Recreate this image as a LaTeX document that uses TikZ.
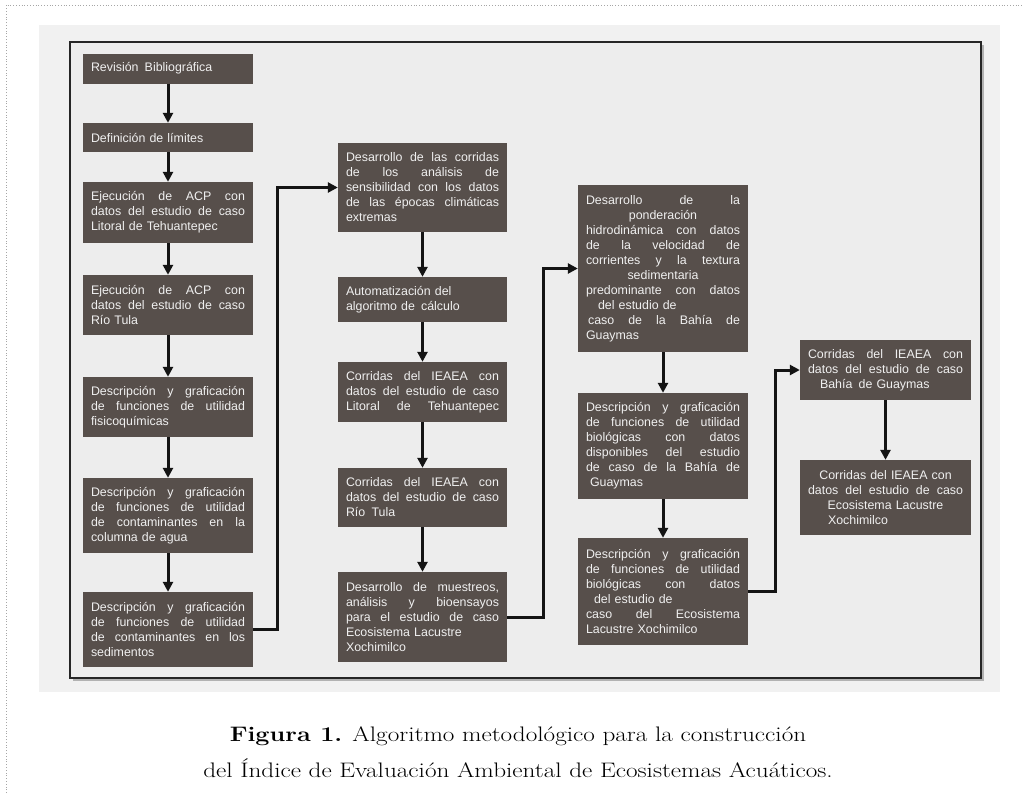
\documentclass[tikz,border=0pt]{standalone}
\usepackage{fontspec}
\usepackage{graphicx}
\usetikzlibrary{arrows.meta}
\newfontfamily\boxfont{Liberation Sans}
\definecolor{boxc}{HTML}{574F4B}
\definecolor{scanbg}{HTML}{F1F1F1}
\newcommand\J[1]{\leavevmode\hbox to \hsize{\spaceskip=0.28em plus 3em\relax #1}}
\newcommand\Cc[1]{\leavevmode\hbox to \hsize{\hss#1\hss}}
\tikzset{
  bx/.style={fill=boxc, text=white!94!black, inner sep=0pt, align=left,
    font=\boxfont\fontsize{12.4}{15}\selectfont},
  arr/.style={line width=3pt, draw=black!92, -{Triangle[length=10pt,width=10pt]}},
}
\begin{document}
\begin{tikzpicture}[x=1pt,y=-1pt]
\useasboundingbox (0,0) rectangle (1024,793);
\draw[gray!70, dotted, line width=0.8pt] (6,793) -- (6,5) -- (1024,5);
% scanned background and frame
\fill[scanbg] (39,25) rectangle (1000,692);
\fill[black!30] (73,45) rectangle (984,681);
\fill[black!7] (70,42) rectangle (981,678);
\draw[line width=2.8pt, black!85] (70,42) rectangle (981,678);

% column 1
\node[bx, text width=154pt, minimum width=170pt, minimum height=30pt] (A1) at (168,68.5)
  {Revisión\enspace Bibliográfica};
\node[bx, text width=154pt, minimum width=170pt, minimum height=29pt] (A2) at (168,137.5)
  {Definición de límites};
\node[bx, text width=154pt, minimum width=170pt, minimum height=61pt] (A3) at (168,212.5)
  {\J{Ejecución de ACP con}\\\J{datos del estudio de caso}\\Litoral de Tehuantepec};
\node[bx, text width=154pt, minimum width=170pt, minimum height=60pt] (A4) at (168,305)
  {\J{Ejecución de ACP con}\\\J{datos del estudio de caso}\\Río Tula};
\node[bx, text width=154pt, minimum width=170pt, minimum height=60pt] (A5) at (168,407)
  {\J{Descripción y graficación}\\\J{de funciones de utilidad}\\fisicoquímicas};
\node[bx, text width=154pt, minimum width=170pt, minimum height=75pt] (A6) at (168,515.5)
  {\J{Descripción y graficación}\\\J{de funciones de utilidad}\\\J{de contaminantes en la}\\columna de agua};
\node[bx, text width=154pt, minimum width=170pt, minimum height=75pt] (A7) at (168,629.5)
  {\J{Descripción y graficación}\\\J{de funciones de utilidad}\\\J{de contaminantes en los}\\sedimentos};

% column 2
\node[bx, text width=153pt, minimum width=169pt, minimum height=89pt] (B1) at (422.5,187.5)
  {\J{Desarrollo de las corridas}\\\J{de los análisis de}\\\J{sensibilidad con los datos}\\\J{de las épocas climáticas}\\extremas};
\node[bx, text width=153pt, minimum width=169pt, minimum height=45pt] (B2) at (422.5,299.5)
  {Automatización del\\algoritmo de\enspace cálculo};
\node[bx, text width=153pt, minimum width=169pt, minimum height=60pt] (B3) at (422.5,392)
  {\J{Corridas del IEAEA con}\\\J{datos del estudio de caso}\\\J{Litoral de Tehuantepec}};
\node[bx, text width=153pt, minimum width=169pt, minimum height=59pt] (B4) at (422.5,497.5)
  {\J{Corridas del IEAEA con}\\\J{datos del estudio de caso}\\Río\enspace Tula};
\node[bx, text width=153pt, minimum width=169pt, minimum height=90pt] (B5) at (422.5,617)
  {\J{Desarrollo de muestreos,}\\\J{análisis y bioensayos}\\\J{para el estudio de caso}\\Ecosistema Lacustre\\Xochimilco};

% column 3
\node[bx, text width=154pt, minimum width=170pt, minimum height=167pt] (C1) at (663,268.5)
  {\J{Desarrollo de la}\\\Cc{ponderación}\\\J{hidrodinámica con datos}\\\J{de la velocidad de}\\\J{corrientes y la textura}\\\Cc{sedimentaria}\\\J{predominante con datos}\\\hspace*{12pt}del estudio de\\\J{\,caso de la Bahía de}\\Guaymas};
\node[bx, text width=154pt, minimum width=170pt, minimum height=106pt] (C2) at (663,446)
  {\J{Descripción y graficación}\\\J{de funciones de utilidad}\\\J{biológicas con datos}\\\J{disponibles del estudio}\\\J{de caso de la Bahía de}\\\hspace*{4pt}Guaymas};
\node[bx, text width=154pt, minimum width=170pt, minimum height=107pt] (C3) at (663,591.5)
  {\J{Descripción y graficación}\\\J{de funciones de utilidad}\\\J{biológicas con datos}\\\hspace*{8pt}del estudio de\\\J{caso del Ecosistema}\\Lacustre Xochimilco};

% column 4
\node[bx, text width=155pt, minimum width=171pt, minimum height=60pt] (D1) at (885.5,370)
  {\J{Corridas del IEAEA con}\\\J{datos del estudio de caso}\\\hspace*{12pt}Bahía\enspace de Guaymas};
\node[bx, text width=155pt, minimum width=171pt, minimum height=75pt] (D2) at (885.5,497.5)
  {\Cc{Corridas del IEAEA con}\\\J{datos del estudio de caso}\\\Cc{Ecosistema Lacustre}\\\hspace*{20pt}Xochimilco};

% connectors
\draw[arr] (A1) -- (A2);
\draw[arr] (A2) -- (A3);
\draw[arr] (A3) -- (A4);
\draw[arr] (A4) -- (A5);
\draw[arr] (A5) -- (A6);
\draw[arr] (A6) -- (A7);
\draw[arr] (B1) -- (B2);
\draw[arr] (B2) -- (B3);
\draw[arr] (B3) -- (B4);
\draw[arr] (B4) -- (B5);
\draw[arr] (C1) -- (C2);
\draw[arr] (C2) -- (C3);
\draw[arr] (D1) -- (D2);
\draw[arr] (A7.east) -- ++(24,0) |- (B1.west);
\draw[arr] (B5.east) -- ++(36,0) |- (C1.west);
\draw[arr] (C3.east) -- ++(27,0) |- (D1.west);

% caption
\node[font=\fontsize{21}{36}\selectfont, align=center] (cap) at (518,752)
  {\scalebox{1.2}[1]{\textbf{Figura 1.} Algoritmo metodológico para la construcción}\\
   \scalebox{1.2}[1]{del Índice de Evaluación Ambiental de Ecosistemas Acuáticos.}};
\end{tikzpicture}
\end{document}
